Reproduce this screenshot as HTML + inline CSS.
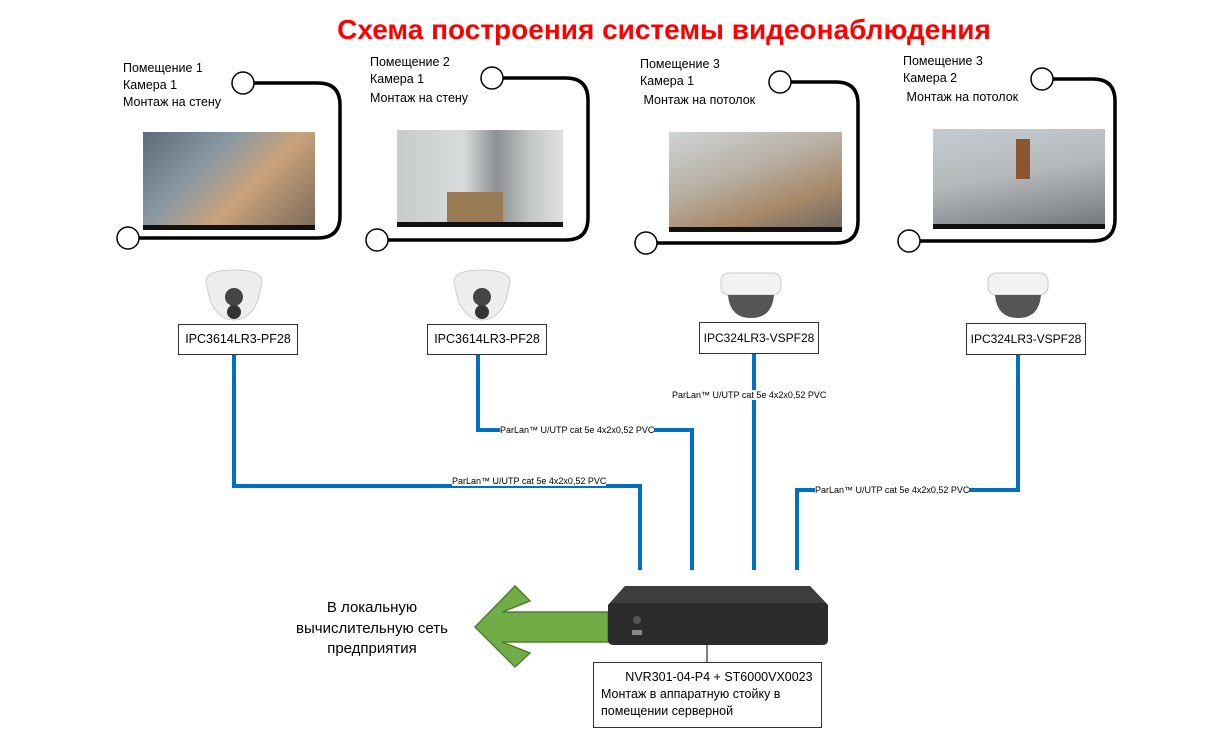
<!DOCTYPE html>
<html><head><meta charset="utf-8"><style>
body{margin:0;width:1232px;height:730px;background:#fff;position:relative;overflow:hidden;font-family:"Liberation Sans","DejaVu Sans",sans-serif}
.t{position:absolute;font-size:12.5px;line-height:17px;color:#000;white-space:nowrap}
.img{position:absolute;overflow:hidden}
.box{position:absolute;border:1.5px solid #333;background:#fff;font-size:12.5px;text-align:center;box-sizing:border-box;white-space:nowrap}
.lab{position:absolute;font-size:9px;background:#fff;white-space:nowrap;line-height:10px}
</style></head><body>
<div style="position:absolute;left:0;width:1328px;top:14px;text-align:center;color:#f00;font-weight:bold;font-size:28px;font-family:'Liberation Sans',sans-serif">Схема построения системы видеонаблюдения</div>

<svg width="1232" height="730" style="position:absolute;left:0;top:0">
<g fill="none" stroke="#000" stroke-width="3.5">
<path d="M254 83 H318 Q340 83 340 105 V216 Q340 238 318 238 H139"/>
<path d="M503 78 H566 Q588 78 588 100 V218 Q588 240 566 240 H388"/>
<path d="M791 82 H836 Q858 82 858 104 V221 Q858 243 836 243 H657"/>
<path d="M1053 79 H1093 Q1115 79 1115 101 V219 Q1115 241 1093 241 H920"/>
</g>
<g fill="#fff" stroke="#000" stroke-width="1.5">
<circle cx="243" cy="83" r="11"/><circle cx="128" cy="238" r="11"/>
<circle cx="492" cy="78" r="11"/><circle cx="377" cy="240" r="11"/>
<circle cx="780" cy="82" r="11"/><circle cx="646" cy="243" r="11"/>
<circle cx="1042" cy="79" r="11"/><circle cx="909" cy="241" r="11"/>
</g>
<g fill="none" stroke="#0070c0" stroke-width="4">
<path d="M234 355 V486 H640 V570"/>
<path d="M478 355 V430 H692 V570"/>
<path d="M754 354 V570"/>
<path d="M1018 355 V490 H797 V570"/>
</g>
<line x1="707" y1="645" x2="707" y2="662" stroke="#000" stroke-width="1"/>
<polygon points="475,627 515,586 530,601 502,612 608,612 608,642 502,642 530,653 515,667" fill="#70ad47" stroke="#507e32" stroke-width="1.5"/>
<g>
<path d="M206 282 Q206 270 234 270 Q262 270 262 282 L258 300 Q250 320 234 320 Q218 320 210 300Z" fill="#eee" stroke="#ccc"/>
<circle cx="234" cy="297" r="9" fill="#444"/><circle cx="234" cy="312" r="7" fill="#333"/>
<path d="M454 282 Q454 270 482 270 Q510 270 510 282 L506 300 Q498 320 482 320 Q466 320 458 300Z" fill="#eee" stroke="#ccc"/>
<circle cx="482" cy="297" r="9" fill="#444"/><circle cx="482" cy="312" r="7" fill="#333"/>
<rect x="721" y="273" width="60" height="22" rx="8" fill="#f2f2f2" stroke="#ccc"/>
<path d="M728 295 H774 Q772 318 751 318 Q730 318 728 295Z" fill="#555"/>
<rect x="988" y="273" width="60" height="22" rx="8" fill="#f2f2f2" stroke="#ccc"/>
<path d="M995 295 H1041 Q1039 318 1018 318 Q997 318 995 295Z" fill="#555"/>
</g>
<path d="M625 586 H810 L828 605 V640 Q828 645 822 645 H614 Q608 645 608 640 V605Z" fill="#2b2b2b"/>
<path d="M625 586 H810 L826 603 H610Z" fill="#3d3d3d"/>
<circle cx="637" cy="620" r="4" fill="#555"/><rect x="632" y="630" width="10" height="5" fill="#888"/>
</svg>

<div class="t" style="left:123px;top:60px">Помещение 1<br>Камера 1<br>Монтаж на стену</div>
<div class="t" style="left:370px;top:54px">Помещение 2<br>Камера 1<br><span style="line-height:21px">Монтаж на стену</span></div>
<div class="t" style="left:640px;top:56px">Помещение 3<br>Камера 1<br><span style="line-height:21px">&nbsp;Монтаж на потолок</span></div>
<div class="t" style="left:903px;top:53px">Помещение 3<br>Камера 2<br><span style="line-height:21px">&nbsp;Монтаж на потолок</span></div>

<div class="img" style="left:143px;top:132px;width:172px;height:98px;background:linear-gradient(135deg,#5b6b78 0%,#8a99a3 35%,#c9a27a 60%,#7a6a5a 100%)"><div style="position:absolute;bottom:0;width:100%;height:5px;background:#111"></div></div>
<div class="img" style="left:397px;top:130px;width:166px;height:97px;background:linear-gradient(90deg,#c7cbcc 0%,#d8dbdb 40%,#8c9193 60%,#c3c6c6 80%,#e0e2e2 100%)"><div style="position:absolute;left:50px;right:60px;bottom:5px;height:30px;background:#9a7a55"></div><div style="position:absolute;bottom:0;width:100%;height:5px;background:#111"></div></div>
<div class="img" style="left:669px;top:132px;width:173px;height:100px;background:linear-gradient(160deg,#cfd4d6 0%,#b8b0a4 40%,#a8896a 70%,#6a6660 100%)"><div style="position:absolute;bottom:0;width:100%;height:5px;background:#111"></div></div>
<div class="img" style="left:933px;top:129px;width:172px;height:100px;background:linear-gradient(170deg,#c4ccd2 0%,#b5b9bb 45%,#8b8f93 80%,#6f7276 100%)"><div style="position:absolute;left:83px;top:10px;width:14px;height:40px;background:#8a5530"></div><div style="position:absolute;bottom:0;width:100%;height:5px;background:#111"></div></div>

<div class="box" style="left:178px;top:324px;width:120px;height:31px;line-height:29px">IPC3614LR3-PF28</div>
<div class="box" style="left:427px;top:324px;width:120px;height:31px;line-height:29px">IPC3614LR3-PF28</div>
<div class="box" style="left:699px;top:322px;width:120px;height:32px;line-height:30px;font-size:12px">IPC324LR3-VSPF28</div>
<div class="box" style="left:966px;top:323px;width:120px;height:32px;line-height:30px;font-size:12px">IPC324LR3-VSPF28</div>

<div class="lab" style="left:452px;top:476px">ParLan™ U/UTP cat 5e 4x2x0,52 PVC</div>
<div class="lab" style="left:500px;top:425px">ParLan™ U/UTP cat 5e 4x2x0,52 PVC</div>
<div class="lab" style="left:672px;top:390px">ParLan™ U/UTP cat 5e 4x2x0,52 PVC</div>
<div class="lab" style="left:815px;top:485px">ParLan™ U/UTP cat 5e 4x2x0,52 PVC</div>

<div style="position:absolute;left:282px;width:180px;top:598px;text-align:center;font-size:15px;line-height:20.5px">В локальную<br>вычислительную сеть<br>предприятия</div>

<div class="box" style="left:593px;top:662px;width:229px;height:66px;text-align:left;font-size:12.5px;line-height:17px;padding:6px 0 0 7px;border-width:1px">&nbsp;&nbsp;&nbsp;&nbsp;&nbsp;&nbsp;&nbsp;NVR301-04-P4 + ST6000VX0023<br>Монтаж в аппаратную стойку в<br>помещении серверной</div>
</body></html>
